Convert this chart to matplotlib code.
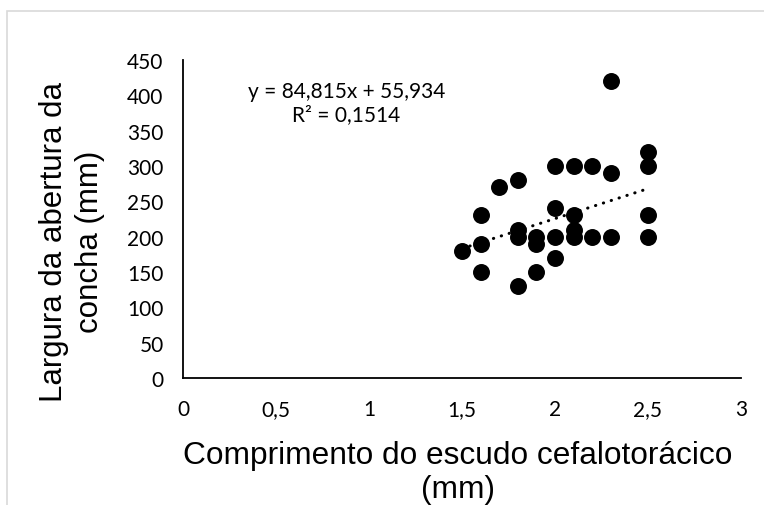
import matplotlib
matplotlib.use("Agg")
import matplotlib.pyplot as plt
import numpy as np
from matplotlib.patches import Rectangle

# shield length (mm) vs shell aperture width
comprimento = [1.5, 1.6, 1.6, 1.6, 1.7, 1.8, 1.8, 1.8, 1.8, 1.9, 1.9, 1.9,
               2.0, 2.0, 2.0, 2.0, 2.1, 2.1, 2.1, 2.1, 2.2, 2.2,
               2.3, 2.3, 2.3, 2.5, 2.5, 2.5, 2.5]
largura = [180, 230, 190, 150, 270, 280, 210, 200, 130, 200, 190, 150,
           300, 240, 200, 170, 300, 230, 210, 200, 300, 200,
           420, 290, 200, 320, 300, 230, 200]

# linear trendline as reported on the chart
slope = 84.815
intercept = 55.934
eq_label = "y = 84,815x + 55,934\nR² = 0,1514"

x_ticks = [0, 0.5, 1, 1.5, 2, 2.5, 3]
x_tick_labels = ["0", "0,5", "1", "1,5", "2", "2,5", "3"]
y_ticks = list(range(0, 451, 50))

fig = plt.figure(figsize=(7.64, 5.06), dpi=100)
fig.patches.append(Rectangle((7 / 764, -0.1), 1.2, 1 - 12 / 506 + 0.1,
                             transform=fig.transFigure, fill=False,
                             edgecolor="#d9d9d9", linewidth=1.2))
ax = fig.add_axes([183 / 764, 1 - 379 / 506, (741 - 183) / 764, (379 - 61) / 506])

ax.scatter(comprimento, largura, s=125, color="black", zorder=3)

x_fit = np.array([min(comprimento), max(comprimento)])
ax.plot(x_fit, slope * x_fit + intercept, color="black", linewidth=2.2,
        linestyle=(0, (0.1, 2.6)), dash_capstyle="round", zorder=2)

ax.set_xlim(0, 3)
ax.set_ylim(0, 450)
ax.set_xticks(x_ticks)
ax.set_xticklabels(x_tick_labels)
ax.set_yticks(y_ticks)
for lab in ax.get_xticklabels() + ax.get_yticklabels():
    lab.set_fontfamily("Lato")
    lab.set_fontsize(15)
ax.tick_params(axis="x", length=0, pad=15)
ax.tick_params(axis="y", length=0, pad=14)
ax.spines["top"].set_visible(False)
ax.spines["right"].set_visible(False)
for s in ("left", "bottom"):
    ax.spines[s].set_linewidth(1.3)

ax.text(0.878, 390, eq_label, family="Lato", fontsize=15, ha="center",
        va="center", linespacing=1.2)

fig.text(458 / 764, 1 - 473 / 506,
         "Comprimento do escudo cefalotorácico\n(mm)",
         family="Liberation Sans", fontsize=22.8, ha="center", va="center",
         linespacing=1.15)
fig.text(72 / 764, 1 - 242 / 506, "Largura da abertura da\nconcha (mm)",
         family="Liberation Sans", fontsize=22.5, ha="center", va="center",
         rotation=90, linespacing=1.25)

fig.savefig("out.png", dpi=100)
